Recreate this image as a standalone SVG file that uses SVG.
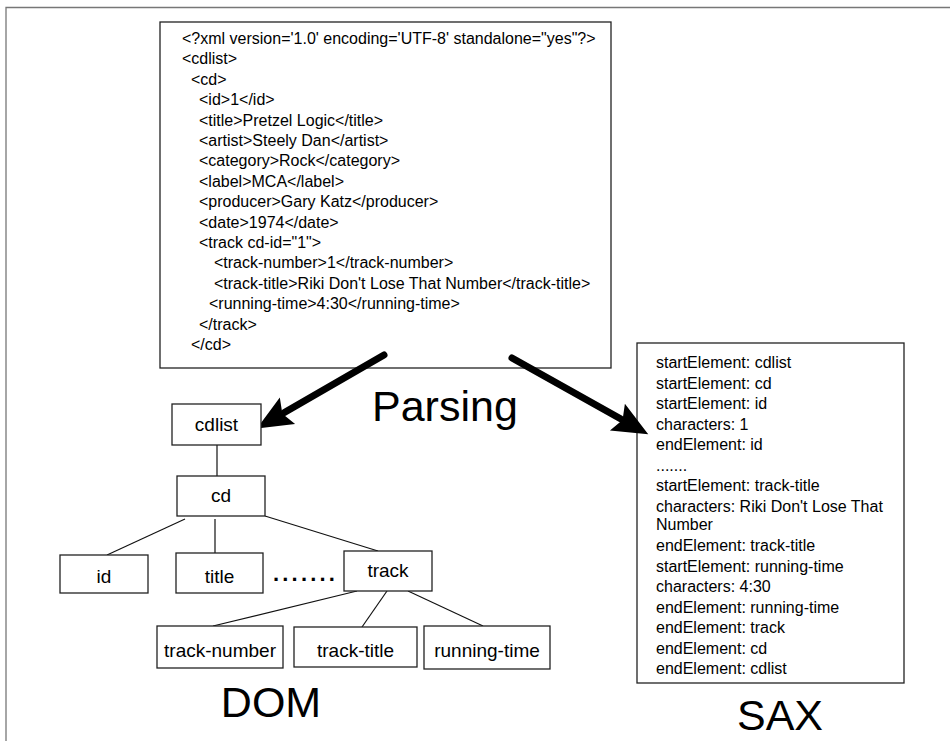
<svg xmlns="http://www.w3.org/2000/svg" width="950" height="741" viewBox="0 0 950 741">
<style>
  text { font-family: "Liberation Sans", Arial, Helvetica, sans-serif; fill: #000; }
  .box { fill: #fff; stroke: #222; stroke-width: 1.3; }
  .code { font-size: 16px; }
  .node { font-size: 19px; text-anchor: middle; }
  .big { font-size: 43px; }
  .edge { stroke: #111; stroke-width: 1.2; fill: none; }
  .parse { stroke: #000; stroke-width: 7; stroke-linecap: round; fill: none; marker-end: url(#head); }
</style>
<defs>
  <marker id="head" markerUnits="userSpaceOnUse" markerWidth="40" markerHeight="40" viewBox="0 -16 34 32" refX="3" refY="0" orient="auto">
    <path d="M30,0 L0,-13 L5,0 L0,13 Z" fill="#000"/>
  </marker>
</defs>
<rect x="0" y="0" width="950" height="741" fill="#fff"/>
<path d="M6,741 V7.5 H950" fill="none" stroke="#777" stroke-width="1.3"/>

<g id="xml-doc">
  <rect class="box" x="160" y="22" width="451" height="346"/>
  <text class="code" x="182" y="44">&lt;?xml version='1.0' encoding='UTF-8' standalone="yes"?&gt;</text>
  <text class="code" x="182" y="64.4">&lt;cdlist&gt;</text>
  <text class="code" x="191" y="84.8">&lt;cd&gt;</text>
  <text class="code" x="199" y="105.2">&lt;id&gt;1&lt;/id&gt;</text>
  <text class="code" x="199" y="125.6">&lt;title&gt;Pretzel Logic&lt;/title&gt;</text>
  <text class="code" x="199" y="146">&lt;artist&gt;Steely Dan&lt;/artist&gt;</text>
  <text class="code" x="199" y="166.4">&lt;category&gt;Rock&lt;/category&gt;</text>
  <text class="code" x="199" y="186.8">&lt;label&gt;MCA&lt;/label&gt;</text>
  <text class="code" x="199" y="207.2">&lt;producer&gt;Gary Katz&lt;/producer&gt;</text>
  <text class="code" x="199" y="227.6">&lt;date&gt;1974&lt;/date&gt;</text>
  <text class="code" x="199" y="248">&lt;track cd-id="1"&gt;</text>
  <text class="code" x="214" y="268.4">&lt;track-number&gt;1&lt;/track-number&gt;</text>
  <text class="code" x="214" y="288.8">&lt;track-title&gt;Riki Don't Lose That Number&lt;/track-title&gt;</text>
  <text class="code" x="209" y="309.2">&lt;running-time&gt;4:30&lt;/running-time&gt;</text>
  <text class="code" x="199" y="329.6">&lt;/track&gt;</text>
  <text class="code" x="191" y="350">&lt;/cd&gt;</text>
</g>

<g id="sax-events">
  <rect class="box" x="637" y="343" width="267" height="340"/>
  <text class="code" x="656" y="368">startElement: cdlist</text>
  <text class="code" x="656" y="388.5">startElement: cd</text>
  <text class="code" x="656" y="409">startElement: id</text>
  <text class="code" x="656" y="429.5">characters: 1</text>
  <text class="code" x="656" y="450">endElement: id</text>
  <text class="code" x="656" y="470.5">.......</text>
  <text class="code" x="656" y="491">startElement: track-title</text>
  <text class="code" x="656" y="511.5">characters: Riki Don't Lose That</text>
  <text class="code" x="656" y="530">Number</text>
  <text class="code" x="656" y="551">endElement: track-title</text>
  <text class="code" x="656" y="571.5">startElement: running-time</text>
  <text class="code" x="656" y="592">characters: 4:30</text>
  <text class="code" x="656" y="612.5">endElement: running-time</text>
  <text class="code" x="656" y="633">endElement: track</text>
  <text class="code" x="656" y="653.5">endElement: cd</text>
  <text class="code" x="656" y="674">endElement: cdlist</text>
</g>

<g id="connectors">
  <line class="edge" x1="217" y1="445" x2="217" y2="476"/>
  <line class="edge" x1="185" y1="519" x2="107" y2="555"/>
  <line class="edge" x1="215" y1="519" x2="215" y2="553"/>
  <line class="edge" x1="265" y1="516" x2="378" y2="551"/>
  <line class="edge" x1="357" y1="591" x2="213" y2="626"/>
  <line class="edge" x1="387" y1="591" x2="362" y2="627"/>
  <line class="edge" x1="408" y1="591" x2="483" y2="626"/>
  <line class="parse" x1="384" y1="355" x2="284.4" y2="412.5"/>
  <line class="parse" x1="512" y1="358" x2="620.5" y2="418.8"/>
</g>

<g id="node-cdlist">
  <rect class="box" x="172" y="404" width="89" height="41"/>
  <text class="node" x="216.5" y="431">cdlist</text>
</g>
<g id="node-cd">
  <rect class="box" x="177" y="476" width="88" height="40"/>
  <text class="node" x="221" y="502">cd</text>
</g>
<g id="node-id">
  <rect class="box" x="60" y="555" width="88" height="38"/>
  <text class="node" x="104" y="583">id</text>
</g>
<g id="node-title">
  <rect class="box" x="176" y="553" width="87" height="40"/>
  <text class="node" x="219.5" y="583">title</text>
</g>
<g id="node-dots">
  <text x="273" y="581" style="font-size:22px;font-weight:bold;letter-spacing:3.2px">.......</text>
</g>
<g id="node-track">
  <rect class="box" x="344" y="551" width="88" height="40"/>
  <text class="node" x="388" y="577">track</text>
</g>
<g id="node-track-number">
  <rect class="box" x="157" y="626" width="126" height="42"/>
  <text class="node" x="220" y="657">track-number</text>
</g>
<g id="node-track-title">
  <rect class="box" x="294" y="627" width="123" height="40"/>
  <text class="node" x="355.5" y="657">track-title</text>
</g>
<g id="node-running-time">
  <rect class="box" x="424" y="626" width="126" height="43"/>
  <text class="node" x="487" y="657">running-time</text>
</g>

<g id="labels">
  <text class="big" x="372" y="421">Parsing</text>
  <text class="big" x="271" y="717" text-anchor="middle">DOM</text>
  <text class="big" x="780" y="730" text-anchor="middle">SAX</text>
</g>
</svg>
